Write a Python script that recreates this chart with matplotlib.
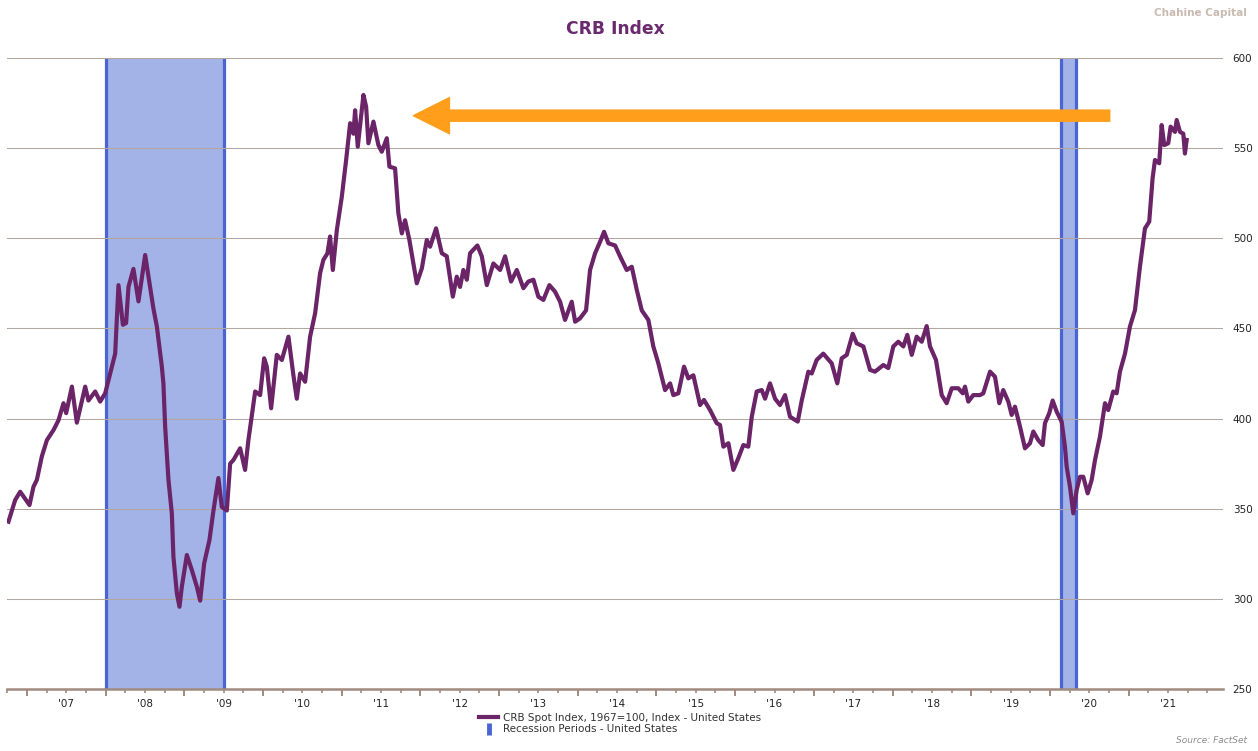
import numpy as np
import matplotlib.pyplot as plt
from matplotlib.lines import Line2D

# CRB spot index (decimal year, index value)
years = [
    2006.765, 2006.850, 2006.914, 2007.032, 2007.083, 2007.126, 2007.189, 2007.253,
    2007.337, 2007.400, 2007.464, 2007.498, 2007.571, 2007.634, 2007.740, 2007.781,
    2007.867, 2007.930, 2007.994, 2008.057, 2008.121, 2008.163, 2008.219, 2008.260,
    2008.290, 2008.353, 2008.417, 2008.502, 2008.544, 2008.607, 2008.651, 2008.714,
    2008.734, 2008.756, 2008.798, 2008.841, 2008.861, 2008.905, 2008.938, 2008.968,
    2009.032, 2009.095, 2009.159, 2009.201, 2009.252, 2009.319, 2009.370, 2009.433,
    2009.476, 2009.540, 2009.582, 2009.624, 2009.709, 2009.772, 2009.814, 2009.900,
    2009.963, 2010.014, 2010.048, 2010.103, 2010.175, 2010.239, 2010.323, 2010.386,
    2010.429, 2010.471, 2010.535, 2010.598, 2010.662, 2010.725, 2010.767, 2010.818,
    2010.852, 2010.887, 2010.938, 2011.001, 2011.056, 2011.107, 2011.149, 2011.170,
    2011.204, 2011.276, 2011.310, 2011.339, 2011.403, 2011.466, 2011.509, 2011.573,
    2011.606, 2011.678, 2011.720, 2011.764, 2011.805, 2011.860, 2011.911, 2011.954,
    2012.018, 2012.081, 2012.123, 2012.199, 2012.272, 2012.335, 2012.412, 2012.462,
    2012.504, 2012.546, 2012.590, 2012.631, 2012.724, 2012.780, 2012.844, 2012.927,
    2013.013, 2013.076, 2013.152, 2013.225, 2013.309, 2013.372, 2013.436, 2013.499,
    2013.563, 2013.639, 2013.711, 2013.775, 2013.838, 2013.923, 2013.966, 2014.029,
    2014.105, 2014.156, 2014.220, 2014.283, 2014.334, 2014.389, 2014.474, 2014.537,
    2014.622, 2014.686, 2014.750, 2014.813, 2014.897, 2014.960, 2015.024, 2015.109,
    2015.173, 2015.214, 2015.278, 2015.350, 2015.405, 2015.469, 2015.554, 2015.604,
    2015.681, 2015.766, 2015.808, 2015.850, 2015.914, 2015.977, 2016.040, 2016.104,
    2016.167, 2016.211, 2016.274, 2016.338, 2016.380, 2016.443, 2016.507, 2016.570,
    2016.634, 2016.697, 2016.795, 2016.846, 2016.930, 2016.973, 2017.036, 2017.120,
    2017.227, 2017.298, 2017.354, 2017.418, 2017.494, 2017.545, 2017.629, 2017.714,
    2017.777, 2017.883, 2017.946, 2018.010, 2018.073, 2018.137, 2018.188, 2018.244,
    2018.307, 2018.371, 2018.434, 2018.476, 2018.552, 2018.625, 2018.688, 2018.752,
    2018.836, 2018.892, 2018.921, 2018.963, 2019.026, 2019.111, 2019.153, 2019.239,
    2019.302, 2019.357, 2019.407, 2019.471, 2019.514, 2019.556, 2019.620, 2019.683,
    2019.747, 2019.789, 2019.852, 2019.908, 2019.937, 2019.992, 2020.035, 2020.086,
    2020.149, 2020.191, 2020.213, 2020.255, 2020.297, 2020.340, 2020.382, 2020.424,
    2020.480, 2020.531, 2020.573, 2020.636, 2020.700, 2020.741, 2020.805, 2020.848,
    2020.890, 2020.954, 2021.017, 2021.081, 2021.144, 2021.208, 2021.262, 2021.305,
    2021.335, 2021.389, 2021.420, 2021.453, 2021.504, 2021.534, 2021.589, 2021.611,
    2021.653, 2021.695, 2021.716, 2021.738,
]
crb = [
    342.8, 354.8, 359.4, 352.0, 362.2, 366.0, 379.0, 388.0,
    393.6, 399.0, 408.5, 403.0, 417.7, 397.7, 417.7, 410.0,
    415.0, 409.4, 414.0, 425.0, 436.0, 474.0, 452.0, 453.0,
    473.0, 483.0, 465.0, 490.7, 478.7, 461.0, 451.0, 428.8,
    419.5, 395.5, 366.0, 347.4, 323.4, 303.0, 295.6, 306.7,
    324.3, 316.0, 306.7, 299.0, 319.7, 332.6, 349.0, 367.0,
    351.0, 349.0, 375.0, 377.0, 383.5, 371.5, 388.0, 415.0,
    413.0, 433.4, 428.8, 405.7, 435.3, 432.5, 445.4, 424.0,
    411.0, 425.0, 420.4, 445.4, 458.4, 480.6, 488.0, 491.6,
    501.0, 482.4, 504.6, 523.0, 543.4, 563.8, 558.0, 571.0,
    550.8, 579.5, 573.0, 552.7, 564.7, 551.7, 548.0, 555.5,
    539.7, 538.8, 513.8, 502.7, 510.0, 499.0, 486.0, 475.0,
    483.3, 499.0, 495.3, 505.5, 491.7, 490.0, 467.6, 478.7,
    473.0, 482.4, 477.0, 491.7, 496.0, 490.0, 474.0, 486.0,
    482.4, 490.0, 476.0, 482.4, 472.3, 476.0, 477.0, 467.6,
    465.8, 474.0, 470.4, 464.8, 454.7, 464.8, 453.7, 455.6,
    460.0, 482.4, 491.7, 498.0, 503.6, 497.2, 496.0, 490.0,
    482.4, 484.2, 471.3, 460.0, 454.7, 440.0, 430.6, 415.8,
    419.5, 413.0, 414.0, 428.8, 422.3, 424.0, 407.5, 410.3,
    404.7, 397.4, 396.4, 384.4, 386.3, 371.5, 378.0, 385.3,
    384.4, 401.0, 415.0, 415.8, 411.0, 419.5, 411.0, 407.5,
    413.0, 401.0, 398.3, 410.0, 426.0, 425.0, 432.5, 436.0,
    430.6, 419.5, 433.4, 435.3, 447.0, 441.7, 440.0, 427.0,
    426.0, 429.7, 428.0, 440.0, 442.6, 440.0, 446.4, 435.3,
    445.4, 442.6, 451.3, 440.0, 432.5, 413.0, 408.5, 416.8,
    416.8, 414.0, 417.7, 409.4, 413.0, 413.0, 414.0, 426.0,
    423.2, 408.5, 415.8, 409.4, 402.0, 406.6, 395.5, 383.5,
    386.3, 392.8, 388.0, 385.3, 397.4, 403.0, 410.0, 403.8,
    398.3, 384.4, 373.3, 362.2, 347.4, 360.4, 367.7, 367.7,
    358.5, 366.0, 377.0, 390.0, 408.5, 404.7, 415.0, 414.0,
    426.0, 436.0, 451.0, 460.2, 484.2, 505.5, 509.2, 533.3,
    543.4, 541.6, 562.8, 551.7, 552.7, 561.9, 559.0, 565.6,
    559.0, 558.0, 547.0, 554.5,
]

# US recession periods (decimal years)
rec_start = [2008.0, 2020.14]
rec_end = [2009.5, 2020.33]

# arrow from the latest level back to the 2011 high
arrow_from = (2020.76, 568)
arrow_to = (2011.91, 568)

year_labels = ["'%02d" % (y % 100) for y in range(2007, 2022)]
ytick_vals = [250, 300, 350, 400, 450, 500, 550, 600]

purple = '#6a2467'
rec_fill = '#a3b2e7'
rec_edge = '#4a64d2'
grid_col = '#b3a69c'

fig = plt.figure(figsize=(12.58, 7.51), dpi=100)
ax = fig.add_axes([0.0058, 0.0826, 0.9664, 0.8402])

for s, e in zip(rec_start, rec_end):
    ax.axvspan(s, e, facecolor=rec_fill, edgecolor='none', zorder=1)
    ax.axvline(s, color=rec_edge, lw=2.3, zorder=1.5)
    ax.axvline(e, color=rec_edge, lw=2.3, zorder=1.5)

ax.plot(years, crb, color=purple, lw=3.0, solid_joinstyle='round', zorder=3)

ax.annotate('', xy=arrow_to, xytext=arrow_from,
            arrowprops=dict(arrowstyle='simple,head_length=2.6,head_width=2.6,tail_width=0.8',
                            mutation_scale=10, color='#ff9e1b', shrinkA=0, shrinkB=0),
            zorder=4)

ax.set_xlim(2006.752, 2022.2)
ax.set_ylim(250, 600)

# y axis on the right, gridlines only
ax.yaxis.tick_right()
ax.set_yticks(ytick_vals)
ax.set_yticklabels([str(v) for v in ytick_vals])
ax.tick_params(axis='y', length=0, pad=7, labelsize=7.5, labelcolor='#222222')
ax.yaxis.grid(True, color=grid_col, lw=0.75)
ax.set_axisbelow(False)

# x axis: labels mid-year, quarterly ticks
mid = np.arange(2007, 2022) + 0.5
ax.set_xticks(mid)
ax.set_xticklabels(year_labels)
quarters = [q for q in np.arange(2006.75, 2022.01, 0.25) if (q % 1) != 0.5]
ax.set_xticks(quarters, minor=True)
ax.tick_params(axis='x', which='both', length=3, width=1.2, color='#a08b7e',
               direction='out', pad=4, labelsize=7.5, labelcolor='#222222')
sec = ax.secondary_xaxis('bottom')
sec.set_xticks(np.arange(2007, 2022))
sec.set_xticklabels([])
sec.tick_params(length=5, width=1.4, color='#a08b7e')
sec.spines['bottom'].set_visible(False)

for side in ['top', 'left', 'right']:
    ax.spines[side].set_visible(False)
ax.spines['bottom'].set_color('#a08b7e')
ax.spines['bottom'].set_linewidth(1.8)

fig.text(0.489, 0.962, 'CRB Index', ha='center', va='center', fontsize=12.3,
         fontweight='bold', color='#6a2a6e')
fig.text(0.991, 0.990, 'Chahine Capital', ha='right', va='top', fontsize=7.5,
         fontweight='bold', color='#c9bab2')
fig.text(0.991, 0.008, 'Source: FactSet', ha='right', va='bottom', fontsize=6.5,
         style='italic', color='#8c8c8c')

handles = [Line2D([], [], color=purple, lw=3),
           Line2D([], [], color=rec_edge, marker='|', ms=8, mew=3.5, linestyle='None')]
fig.legend(handles, ['CRB Spot Index, 1967=100, Index - United States',
                     'Recession Periods - United States'],
           loc='upper left', bbox_to_anchor=(0.377, 0.058), frameon=False,
           fontsize=7.5, handlelength=1.8, handletextpad=0.5, labelspacing=0.15,
           borderpad=0, labelcolor='#333333')

plt.savefig('out.png', dpi=100)
